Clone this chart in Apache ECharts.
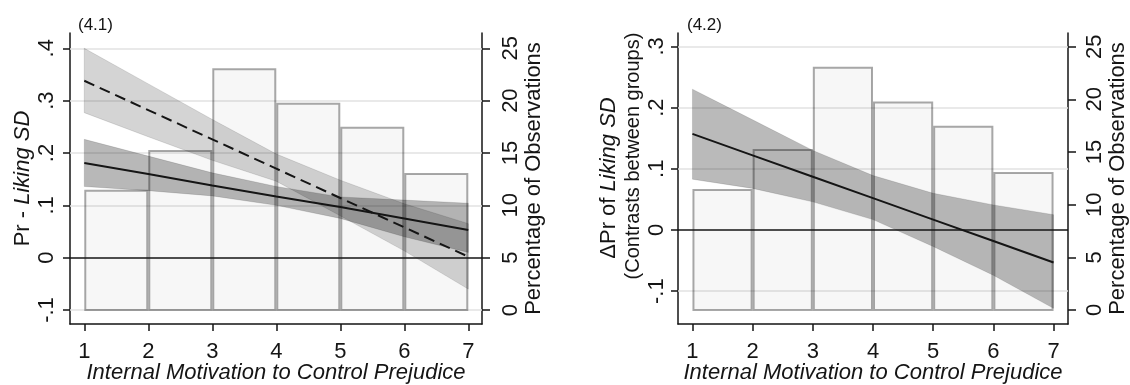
<!DOCTYPE html>
<html>
<head>
<meta charset="utf-8">
<script src="https://cdn.jsdelivr.net/npm/echarts@6/dist/echarts.min.js"></script>
<style>
  html, body { margin: 0; padding: 0; background: #fff; }
  #chart { width: 1130px; height: 385px; }
</style>
</head>
<body>
<div id="chart"></div>
<script>
// histogram behind both panels (% of observations per bin)
var binStart = [1, 2, 3, 4, 5, 6]
var binEnd = [2, 3, 4, 5, 6, 7]
var binPct = [11.4, 15.2, 23.0, 19.7, 17.4, 13.0]

var xVals = [1, 2, 3, 4, 5, 6, 7]

// (4.1) dashed prediction + light CI
var dashPr = [0.338, 0.282, 0.226, 0.170, 0.114, 0.058, 0.002]
var dashLo = [0.277, 0.231, 0.186, 0.146, 0.080, 0.013, -0.060]
var dashHi = [0.400, 0.332, 0.264, 0.198, 0.148, 0.103, 0.065]

// (4.1) solid prediction + dark CI
var solidPr = [0.181, 0.160, 0.138, 0.117, 0.097, 0.075, 0.053]
var solidLo = [0.136, 0.128, 0.118, 0.100, 0.075, 0.040, 0.010]
var solidHi = [0.226, 0.194, 0.162, 0.136, 0.116, 0.110, 0.104]

// (4.2) contrast + CI
var diffPr = [0.157, 0.122, 0.087, 0.052, 0.017, -0.018, -0.053]
var diffLo = [0.083, 0.068, 0.046, 0.017, -0.027, -0.074, -0.128]
var diffHi = [0.230, 0.180, 0.130, 0.089, 0.060, 0.041, 0.025]

// tick labels
var xTicks = [1, 2, 3, 4, 5, 6, 7]
var yTicks1 = [-0.1, 0, 0.1, 0.2, 0.3, 0.4]
var yTicks2 = [-0.1, 0, 0.1, 0.2, 0.3]
var pctTicks = [0, 5, 10, 15, 20, 25]

var font = 'Liberation Sans, Arial, sans-serif'
var ink = '#151515'

function fmtPr(v) {
  if (Math.abs(v) < 1e-9) return '0'
  return (v < 0 ? '-' : '') + '.' + Math.round(Math.abs(v) * 10)
}

function xAxisCfg(idx, min, max) {
  return {
    type: 'value', gridIndex: idx, min: min, max: max,
    name: 'Internal Motivation to Control Prejudice',
    nameLocation: 'middle', nameGap: 38, nameMoveOverlap: false,
    nameTextStyle: { fontSize: 22, fontStyle: 'italic', color: ink, fontFamily: font },
    axisLine: { show: true, onZero: false, lineStyle: { color: ink, width: 1.5 } },
    axisTick: { show: true, length: 7, customValues: xTicks, lineStyle: { color: ink, width: 1.5 } },
    axisLabel: { customValues: xTicks, fontSize: 22, color: ink, fontFamily: font, margin: 17 },
    splitLine: { show: false }
  }
}

function leftAxisCfg(idx, min, max, ticks, margin) {
  return {
    type: 'value', gridIndex: idx, position: 'left', min: min, max: max,
    axisLine: { show: true, onZero: false, lineStyle: { color: ink, width: 1.5 } },
    axisTick: { show: true, length: 7, customValues: ticks, lineStyle: { color: ink, width: 1.5 } },
    axisLabel: { customValues: ticks, rotate: 90, fontSize: 22, color: ink, fontFamily: font, margin: margin, formatter: fmtPr },
    splitLine: { show: false }
  }
}

function pctAxisCfg(idx, min, max, gap, margin) {
  return {
    type: 'value', gridIndex: idx, position: 'right', min: min, max: max,
    name: 'Percentage of Observations', nameLocation: 'middle', nameRotate: 90, nameGap: gap,
    nameTextStyle: { fontSize: 22, color: ink, fontFamily: font },
    axisLine: { show: true, onZero: false, lineStyle: { color: ink, width: 1.5 } },
    axisTick: { show: true, length: 8, customValues: pctTicks, lineStyle: { color: ink, width: 1.5 } },
    axisLabel: { customValues: pctTicks, rotate: 90, fontSize: 22, color: ink, fontFamily: font, margin: margin },
    splitLine: { show: false }
  }
}

function barItem(params, api) {
  var p0 = api.coord([api.value(0), api.value(2)])
  var p1 = api.coord([api.value(1), 0])
  return {
    type: 'rect',
    shape: { x: p0[0] + 1, y: p0[1], width: p1[0] - p0[0] - 2, height: p1[1] - p0[1] },
    style: { fill: 'rgba(0,0,0,0.03)', stroke: 'rgba(0,0,0,0.34)', lineWidth: 2 }
  }
}

function bandItem(lo, hi, fill) {
  return function (params, api) {
    if (params.dataIndex !== 0) return
    var pts = []
    for (var i = 0; i < xVals.length; i++) pts.push(api.coord([xVals[i], hi[i]]))
    for (var j = xVals.length - 1; j >= 0; j--) pts.push(api.coord([xVals[j], lo[j]]))
    return {
      type: 'polygon',
      shape: { points: pts },
      style: { fill: fill, stroke: 'rgba(0,0,0,0.12)', lineWidth: 1 }
    }
  }
}

function pairs(ys) {
  return xVals.map(function (x, i) { return [x, ys[i]] })
}
function bandData(lo, hi) {
  return xVals.map(function (x, i) { return [x, lo[i], hi[i]] })
}
var barData = binStart.map(function (s, i) { return [s, binEnd[i], binPct[i]] })

function gridLines(ticks) {
  return {
    silent: true, symbol: 'none', z: 1, animation: false,
    label: { show: false },
    lineStyle: { color: '#e2e2e2', width: 1.5, type: 'solid' },
    data: ticks.filter(function (t) { return Math.abs(t) > 1e-9 }).map(function (t) { return { yAxis: t } })
  }
}
var zeroLine = {
  silent: true, symbol: 'none', z: 6, animation: false,
  label: { show: false },
  lineStyle: { color: ink, width: 1.6, type: 'solid' },
  data: [{ yAxis: 0 }]
}

var chart = echarts.init(document.getElementById('chart'))
chart.setOption({
  animation: false,
  textStyle: { fontFamily: font },
  title: [
    { text: '(4.1)', left: 73, top: 12, textStyle: { fontSize: 17, fontWeight: 'normal', color: ink, fontFamily: font } },
    { text: '(4.2)', left: 682, top: 12, textStyle: { fontSize: 17, fontWeight: 'normal', color: ink, fontFamily: font } }
  ],
  grid: [
    { left: 70, right: 648, top: 33, bottom: 61, outerBoundsMode: 'none', containLabel: false },
    { left: 678, right: 62, top: 33, bottom: 61, outerBoundsMode: 'none', containLabel: false }
  ],
  xAxis: [xAxisCfg(0, 0.777, 7.214), xAxisCfg(1, 0.76, 7.24)],
  yAxis: [
    Object.assign(leftAxisCfg(0, -0.1267, 0.4292, yTicks1, 12), {
      name: '{r|Pr - }{i|Liking SD}', nameLocation: 'middle', nameRotate: 90, nameGap: 36,
      nameTextStyle: {
        fontSize: 22, color: ink, fontFamily: font,
        rich: { r: { fontSize: 22, color: ink, fontFamily: font }, i: { fontSize: 22, fontStyle: 'italic', color: ink, fontFamily: font } }
      }
    }),
    pctAxisCfg(0, -1.335, 26.46, 37, 18),
    leftAxisCfg(1, -0.1536, 0.3219, yTicks2, 10),
    pctAxisCfg(1, -1.33, 26.3, 39, 16)
  ],
  graphic: [
    {
      type: 'text', x: 609, y: 178, rotation: Math.PI / 2,
      style: {
        text: '{r|ΔPr of }{i|Liking SD}', textAlign: 'center', textVerticalAlign: 'middle',
        rich: { r: { fontSize: 22, fill: ink, fontFamily: font }, i: { fontSize: 22, fontStyle: 'italic', fill: ink, fontFamily: font } }
      }
    },
    {
      type: 'text', x: 633, y: 156, rotation: Math.PI / 2,
      style: { text: '(Contrasts between groups)', textAlign: 'center', textVerticalAlign: 'middle', fontSize: 20, fontFamily: font, fill: ink }
    }
  ],
  series: [
    // panel 4.1
    { type: 'custom', xAxisIndex: 0, yAxisIndex: 1, z: 1, renderItem: barItem, data: barData, silent: true },
    { type: 'custom', xAxisIndex: 0, yAxisIndex: 0, z: 3, renderItem: bandItem(dashLo, dashHi, 'rgba(0,0,0,0.17)'), data: bandData(dashLo, dashHi), markLine: gridLines(yTicks1), silent: true },
    { type: 'custom', xAxisIndex: 0, yAxisIndex: 0, z: 3, renderItem: bandItem(solidLo, solidHi, 'rgba(0,0,0,0.28)'), data: bandData(solidLo, solidHi), silent: true },
    { type: 'line', xAxisIndex: 0, yAxisIndex: 0, z: 5, data: pairs(dashPr), symbol: 'none', lineStyle: { color: ink, width: 2, type: [11, 6] }, markLine: zeroLine },
    { type: 'line', xAxisIndex: 0, yAxisIndex: 0, z: 5, data: pairs(solidPr), symbol: 'none', lineStyle: { color: ink, width: 2 } },
    // panel 4.2
    { type: 'custom', xAxisIndex: 1, yAxisIndex: 3, z: 1, renderItem: barItem, data: barData, silent: true },
    { type: 'custom', xAxisIndex: 1, yAxisIndex: 2, z: 3, renderItem: bandItem(diffLo, diffHi, 'rgba(0,0,0,0.27)'), data: bandData(diffLo, diffHi), markLine: gridLines(yTicks2), silent: true },
    { type: 'line', xAxisIndex: 1, yAxisIndex: 2, z: 5, data: pairs(diffPr), symbol: 'none', lineStyle: { color: ink, width: 2 }, markLine: zeroLine }
  ]
})
</script>
</body>
</html>
